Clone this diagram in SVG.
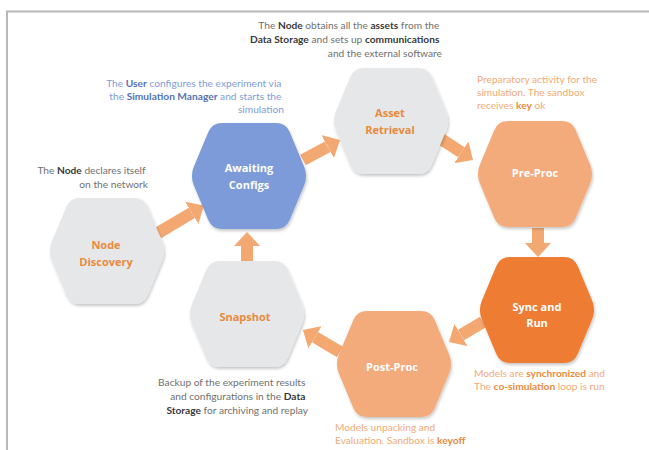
<svg xmlns="http://www.w3.org/2000/svg" xmlns:xlink="http://www.w3.org/1999/xlink" width="649" height="450" viewBox="0 0 649 450">
<style>
.ann{font-family:Lato,"Liberation Sans",sans-serif;font-size:10.2px;}
.dark{fill:#707070;}
.dark .b{fill:#3a3a3a;font-weight:bold;}
.blue{fill:#7f9cd6;}
.blue .b{fill:#5373b5;font-weight:bold;}
.org{fill:#f3aa78;}
.org .b{fill:#ea8a40;font-weight:bold;}
.lbl{font-family:"Open Sans","Liberation Sans",sans-serif;font-size:11px;font-weight:bold;text-anchor:middle;}
.lg{fill:#e98a3e;}
.lw{fill:#ffffff;}
.gray{fill:#e6e7e9;}
.arr{stroke:#f4a871;stroke-width:12;fill:none;marker-end:url(#ah);}
</style>
<defs>
<path id="hex" d="M-55.2,-9.2 L-40.8,-43.8 Q-37,-53 -27,-53 L27,-53 Q37,-53 40.8,-43.8 L55.2,-9.2 Q59,0 55.2,9.2 L40.8,43.8 Q37,53 27,53 L-27,53 Q-37,53 -40.8,43.8 L-55.2,9.2 Q-59,0 -55.2,-9.2 Z"/>
<filter id="sh" x="-20%" y="-20%" width="140%" height="140%">
<feDropShadow dx="1" dy="2" stdDeviation="1.8" flood-color="#000" flood-opacity="0.22"/>
</filter>
<marker id="ah" viewBox="0 0 14 26" refX="0" refY="13" markerWidth="14" markerHeight="26" markerUnits="userSpaceOnUse" orient="auto">
<path d="M0,0 L14,13 L0,26 Z" fill="#f4a871"/>
</marker>
</defs>
<rect width="649" height="450" fill="#ffffff"/>
<path d="M7,450 V11.5 H649" fill="none" stroke="#b8b8b8" stroke-width="2"/>

<g id="connectors">
<line class="arr" x1="158" y1="233" x2="191.8" y2="212.8"/>
<line class="arr" x1="303" y1="160" x2="327.7" y2="146.7"/>
<line class="arr" x1="438" y1="137" x2="461.3" y2="152.3"/>
<line class="arr" x1="538" y1="228" x2="538" y2="243"/>
<line class="arr" x1="483" y1="322" x2="461" y2="335"/>
<line class="arr" x1="340" y1="352" x2="315" y2="337.2"/>
<line class="arr" x1="247" y1="262" x2="247" y2="246"/>
</g>

<g id="node-discovery">
<use xlink:href="#hex" x="107" y="251" class="gray" filter="url(#sh)"/>
<text class="lbl lg" x="106" y="249">Node</text>
<text class="lbl lg" x="106" y="266">Discovery</text>
</g>
<g id="awaiting-configs">
<use xlink:href="#hex" x="249" y="176" fill="#7b9bd8" filter="url(#sh)"/>
<text class="lbl lw" x="249" y="172">Awaiting</text>
<text class="lbl lw" x="249" y="189">Configs</text>
</g>
<g id="asset-retrieval">
<use xlink:href="#hex" x="391" y="121" class="gray" filter="url(#sh)"/>
<text class="lbl lg" x="390" y="117">Asset</text>
<text class="lbl lg" x="390" y="134">Retrieval</text>
</g>
<g id="pre-proc">
<use xlink:href="#hex" x="535" y="174" fill="#f4ab7c" filter="url(#sh)"/>
<text class="lbl lw" x="535" y="177">Pre-Proc</text>
</g>
<g id="sync-and-run">
<use xlink:href="#hex" x="537" y="310" fill="#ee7c31" filter="url(#sh)"/>
<text class="lbl lw" x="537" y="311">Sync and</text>
<text class="lbl lw" x="537" y="327">Run</text>
</g>
<g id="post-proc">
<use xlink:href="#hex" x="394" y="364" fill="#f4ab7c" filter="url(#sh)"/>
<text class="lbl lw" x="392" y="371">Post-Proc</text>
</g>
<g id="snapshot">
<use xlink:href="#hex" x="247" y="314" class="gray" filter="url(#sh)"/>
<text class="lbl lg" x="245" y="321">Snapshot</text>
</g>

<g id="annotations">
<text class="ann dark" text-anchor="end">
<tspan x="442" y="28.5">The <tspan class="b">Node</tspan> obtains all the <tspan class="b">assets</tspan> from the</tspan>
<tspan x="442" y="42.5"><tspan class="b">Data Storage</tspan> and sets up <tspan class="b">communications</tspan></tspan>
<tspan x="442" y="56.5">and the external software</tspan>
</text>
<text class="ann blue" text-anchor="end">
<tspan x="284" y="86.5">The <tspan class="b">User</tspan> configures the experiment via</tspan>
<tspan x="284" y="99.5">the <tspan class="b">Simulation Manager</tspan> and starts the</tspan>
<tspan x="284" y="113">simulation</tspan>
</text>
<text class="ann dark" text-anchor="end">
<tspan x="148" y="173.5">The <tspan class="b">Node</tspan> declares itself</tspan>
<tspan x="148" y="188">on the network</tspan>
</text>
<text class="ann org">
<tspan x="477" y="82.5">Preparatory activity for the</tspan>
<tspan x="477" y="95.5">simulation. The sandbox</tspan>
<tspan x="477" y="108.5">receives <tspan class="b">key</tspan> ok</tspan>
</text>
<text class="ann org">
<tspan x="474" y="376.5">Models are <tspan class="b">synchronized</tspan> and</tspan>
<tspan x="474" y="390">The <tspan class="b">co-simulation</tspan> loop is run</tspan>
</text>
<text class="ann dark" text-anchor="end">
<tspan x="308" y="386">Backup of the experiment results</tspan>
<tspan x="308" y="400">and configurations in the <tspan class="b">Data</tspan></tspan>
<tspan x="308" y="414"><tspan class="b">Storage</tspan> for archiving and replay</tspan>
</text>
<text class="ann org">
<tspan x="335" y="431">Models unpacking and</tspan>
<tspan x="335" y="444">Evaluation. Sandbox is <tspan class="b">keyoff</tspan></tspan>
</text>
</g>
</svg>
